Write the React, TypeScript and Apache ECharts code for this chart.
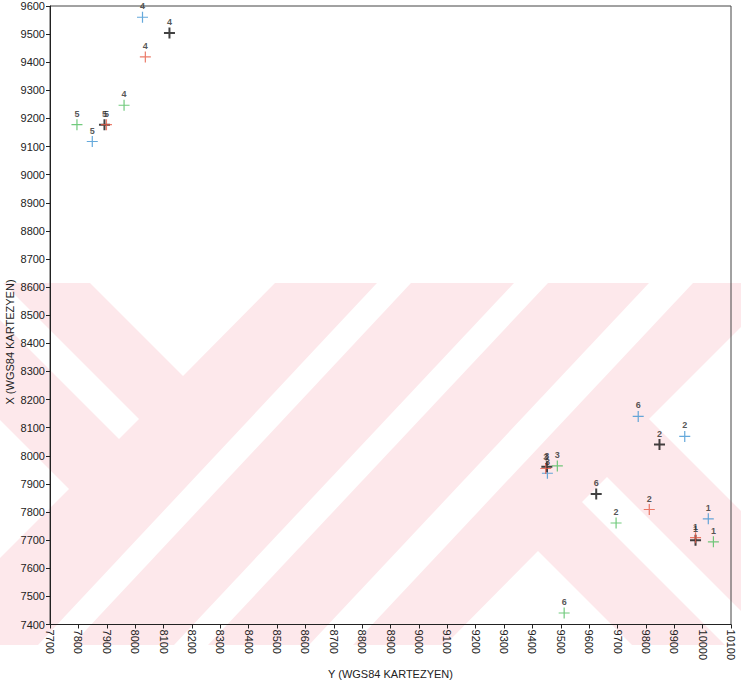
import React, { useEffect, useRef } from "react";
import * as echarts from "echarts";

// Point numbers shown above each cross
const pointLabels = ["1", "2", "3", "4", "5", "6"];

// Horizontal axis: Y (WGS84 Kartezyen), vertical axis: X (WGS84 Kartezyen)
const blueY = [10020, 9937, 9453, 8026, 7849, 9773];
const blueX = [7776, 8069, 7938, 9560, 9118, 8140];

const redY = [9975, 9812, 9447, 8036, 7899, null];
const redX = [7709, 7809, 7955, 9419, 9178, null];

const blackY = [9975, 9848, 9451, 8121, 7892, 9625];
const blackX = [7700, 8040, 7961, 9504, 9178, 7864];

const greenY = [10038, 9695, 9488, 7961, 7795, 9512];
const greenX = [7694, 7761, 7964, 9247, 9178, 7441];

// Axis ranges and tick step
const yAxisRange = [7700, 10100];
const xAxisRange = [7400, 9600];
const tickStep = 100;

const thinPlus =
  "path://M-0.6,-5.5H0.6V-0.6H5.5V0.6H0.6V5.5H-0.6V0.6H-5.5V-0.6H-0.6Z";
const boldPlus = "path://M-1,-5.5H1V-1H5.5V1H1V5.5H-1V1H-5.5V-1H-1Z";

const FONT = "'Liberation Sans', Arial, sans-serif";

function buildPoints(ys: (number | null)[], xs: (number | null)[]) {
  const out: any[] = [];
  ys.forEach((y, i) => {
    const x = xs[i];
    if (y == null || x == null) return;
    out.push({ value: [y, x], name: pointLabels[i] });
  });
  return out;
}

function crossSeries(name: string, color: string, symbol: string, data: any[]) {
  return {
    name,
    type: "scatter",
    data,
    symbol,
    symbolSize: 11,
    itemStyle: { color },
    label: {
      show: true,
      position: "top",
      distance: 1,
      formatter: (p: any) => p.name,
      color: "#2a2a2a",
      fontSize: 9,
      fontWeight: "bold",
      fontFamily: FONT,
      lineHeight: 9,
    },
  };
}

// Background band pattern (pink field with white cut-outs)
const PINK = "#fde8eb";
const whiteCuts: number[][][] = [
  [[90, 283], [275, 283], [183, 376]],
  [[0, 283], [3, 283], [139, 419], [119, 439], [0, 320]],
  [[0, 420], [69, 489], [0, 558]],
  [[377, 283], [411, 283], [72, 645], [38, 645]],
  [[514, 283], [548, 283], [208, 645], [174, 645]],
  [[649, 283], [693, 283], [353, 645], [309, 645]],
  [[538, 551], [632, 645], [445, 645]],
  [[607, 477], [741, 611], [741, 645], [725, 645], [582, 502]],
  [[649, 419], [741, 327], [741, 511]],
];

const plainNumber = (v: number) => String(v);

export default function App() {
  const ref = useRef<HTMLDivElement>(null);

  useEffect(() => {
    if (!ref.current) return;
    const chart = echarts.init(ref.current, undefined, { renderer: "svg" });

    const graphic: any[] = [
      {
        type: "rect",
        z: -10,
        silent: true,
        shape: { x: 0, y: 283, width: 741, height: 362 },
        style: { fill: PINK },
      },
      ...whiteCuts.map((pts) => ({
        type: "polygon",
        z: -9,
        silent: true,
        shape: { points: pts },
        style: { fill: "#ffffff" },
      })),
      {
        type: "text",
        x: 10,
        y: 342,
        rotation: Math.PI / 2,
        style: {
          text: "X (WGS84 KARTEZYEN)",
          fill: "#222",
          font: `11px ${FONT}`,
          align: "center",
          verticalAlign: "middle",
        },
      },
    ];

    chart.setOption({
      animation: false,
      backgroundColor: "#ffffff",
      graphic,
      grid: {
        left: 50,
        right: 10,
        top: 6,
        bottom: 54,
        show: true,
        borderColor: "#444",
        borderWidth: 1,
        backgroundColor: "transparent",
      },
      xAxis: {
        type: "value",
        min: yAxisRange[0],
        max: yAxisRange[1],
        interval: tickStep,
        name: "Y (WGS84 KARTEZYEN)",
        nameLocation: "middle",
        nameGap: 42,
        nameTextStyle: { color: "#222", fontSize: 11, fontFamily: FONT },
        axisLine: { show: true, lineStyle: { color: "#222", width: 1 } },
        axisTick: { show: true, length: 4, lineStyle: { color: "#222" } },
        axisLabel: {
          rotate: -90,
          margin: 5,
          color: "#222",
          fontSize: 11,
          fontFamily: FONT,
          showMinLabel: true,
          showMaxLabel: true,
          formatter: plainNumber,
        },
        splitLine: { show: false },
      },
      yAxis: {
        type: "value",
        min: xAxisRange[0],
        max: xAxisRange[1],
        interval: tickStep,
        axisLine: { show: true, lineStyle: { color: "#222", width: 1 } },
        axisTick: { show: true, length: 4, lineStyle: { color: "#222" } },
        axisLabel: {
          margin: 5,
          color: "#222",
          fontSize: 11,
          fontFamily: FONT,
          showMinLabel: true,
          showMaxLabel: true,
          formatter: plainNumber,
        },
        splitLine: { show: false },
      },
      series: [
        crossSeries("Seri 1", "#3f93d2", thinPlus, buildPoints(blueY, blueX)),
        crossSeries("Seri 3", "#111111", boldPlus, buildPoints(blackY, blackX)),
        crossSeries("Seri 2", "#e65a45", thinPlus, buildPoints(redY, redX)),
        crossSeries("Seri 4", "#4dbd5c", thinPlus, buildPoints(greenY, greenX)),
      ],
    });

    return () => chart.dispose();
  }, []);

  return (
    <div
      ref={ref}
      style={{ position: "fixed", left: 0, top: 0, width: 741, height: 684 }}
    />
  );
}
